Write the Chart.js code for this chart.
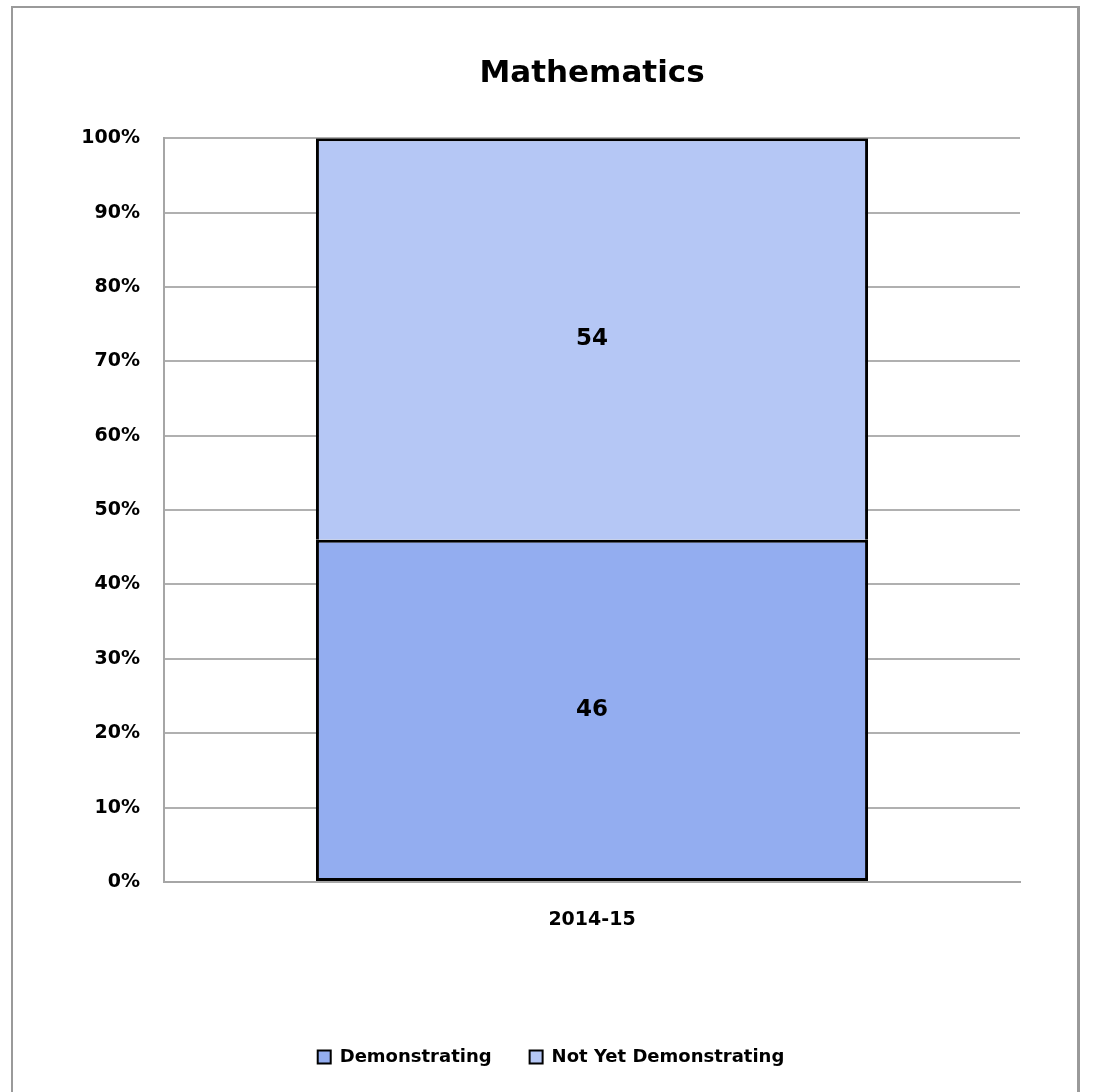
<!DOCTYPE html>
<html>
<head>
<meta charset="utf-8">
<script src="https://cdn.jsdelivr.net/npm/chart.js@4.4.1/dist/chart.umd.min.js"></script>
<style>
  html, body { margin: 0; padding: 0; background: #fff; overflow: hidden; }
  .frame {
    position: absolute; left: 11px; top: 6px; width: 1064px; height: 1100px;
    border-left: 2px solid #9a9a9a; border-top: 2px solid #9a9a9a; border-right: 3px solid #9a9a9a;
  }
  .vis-container { position: absolute; left: 0; top: 0; width: 1093px; height: 1092px; }
</style>
</head>
<body>
<div class="frame"></div>
<div class="vis-container"><canvas id="vis" width="1093" height="1092"></canvas></div>
<script>

// data
const categories = ['2014-15'];
const demonstrating = [46];
const not_yet = [54];
const series_names = ['Demonstrating', 'Not Yet Demonstrating'];
const y_ticks = [0, 10, 20, 30, 40, 50, 60, 70, 80, 90, 100];

const font_family = "'DejaVu Sans', sans-serif";

// writes the value in the middle of each stacked segment
const segmentLabels = {
    id: 'segmentLabels',
    afterDatasetsDraw(chart) {
        const ctx = chart.ctx;
        ctx.save();
        ctx.font = `bold 23px ${font_family}`;
        ctx.fillStyle = '#000';
        ctx.textAlign = 'center';
        ctx.textBaseline = 'middle';
        chart.data.datasets.forEach((ds, i) => {
            chart.getDatasetMeta(i).data.forEach((bar, j) => {
                const mid = (bar.y + bar.base) / 2;
                ctx.fillText(ds.data[j], bar.x, mid);
            });
        });
        ctx.restore();
    }
};

const chart = new Chart(document.getElementById('vis'), {
    type: 'bar',
    data: {
        labels: categories,
        datasets: [
            {
                label: series_names[0],
                data: demonstrating,
                backgroundColor: '#93adf0',
                borderColor: '#000',
                borderWidth: 3,
                borderSkipped: false
            },
            {
                label: series_names[1],
                data: not_yet,
                backgroundColor: '#b5c7f5',
                borderColor: '#000',
                borderWidth: 3,
                borderSkipped: 'bottom'
            }
        ]
    },
    options: {
        responsive: false,
        animation: false,
        events: [],
        categoryPercentage: 0.645,
        barPercentage: 1,
        layout: { padding: { left: 82, right: 73, top: 40, bottom: 16 } },
        plugins: {
            title: {
                display: true,
                fullSize: false,
                text: 'Mathematics',
                color: '#000',
                font: { family: font_family, size: 31, weight: 'bold' },
                padding: { top: 15, bottom: 46 }
            },
            legend: {
                position: 'bottom',
                labels: {
                    color: '#000',
                    font: { family: font_family, size: 18, weight: 'bold' },
                    boxWidth: 13,
                    boxHeight: 13,
                    padding: 38,
                    generateLabels(chart) {
                        return chart.data.datasets.map((ds, i) => ({
                            text: ds.label,
                            fillStyle: ds.backgroundColor,
                            strokeStyle: '#000',
                            lineWidth: 2,
                            datasetIndex: i,
                            fontColor: '#000'
                        }));
                    }
                }
            },
            tooltip: { enabled: false }
        },
        scales: {
            x: {
                stacked: true,
                grid: { display: false, drawTicks: false },
                border: { color: '#a6a6a6', width: 2 },
                ticks: { color: '#000', font: { family: font_family, size: 19, weight: 'bold' }, padding: 27 },
                afterFit(scale) { scale.height = 128; }
            },
            y: {
                stacked: true,
                min: 0,
                max: 100,
                afterBuildTicks(scale) { scale.ticks = y_ticks.map(v => ({ value: v })); },
                grid: { color: '#b0b0b0', lineWidth: 2, drawTicks: false },
                border: { color: '#a6a6a6', width: 2 },
                ticks: {
                    color: '#000',
                    autoSkip: false,
                    font: { family: font_family, size: 19, weight: 'bold' },
                    padding: 24,
                    callback: v => v + '%'
                },
                afterFit(scale) { scale.width = 82; }
            }
        }
    },
    plugins: [segmentLabels]
});

</script>
</body>
</html>
